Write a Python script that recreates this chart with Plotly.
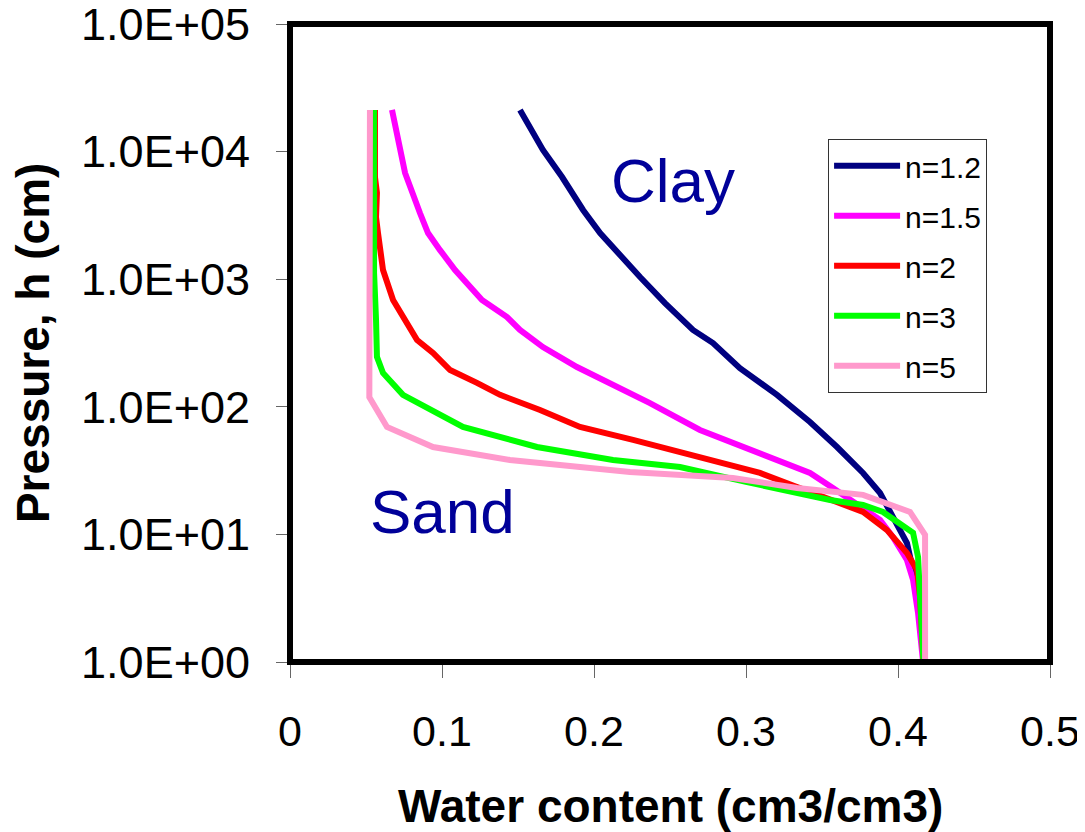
import plotly.graph_objects as go

# Water content (cm3/cm3) and pressure head h (cm)
theta_n12 = [0.1513, 0.1664, 0.179, 0.1928, 0.204, 0.2158, 0.2303, 0.2467, 0.2651, 0.2783,
             0.296, 0.3204, 0.3421, 0.3599, 0.377, 0.3882, 0.3967, 0.4059, 0.4099, 0.4132,
             0.4158, 0.4168]
h_n12 = [21200, 10300, 6320, 3490, 2300, 1600, 1040, 650, 400, 316,
         201, 124, 76, 48.4, 30.3, 21.1, 13.7, 8.55, 5.26, 3.23,
         1.78, 1.0]

theta_n15 = [0.0671, 0.0711, 0.0757, 0.0855, 0.0908, 0.0987, 0.1086, 0.1263, 0.1428, 0.1513,
             0.1664, 0.1888, 0.2105, 0.2368, 0.2697, 0.3026, 0.3204, 0.3421, 0.3572, 0.375,
             0.3882, 0.3967, 0.4059, 0.4099, 0.4132, 0.4165]
h_n15 = [21200, 12300, 6800, 3300, 2300, 1690, 1180, 687, 505, 400,
         294, 205, 154, 107, 65.8, 45.8, 38.3, 30.3, 23.1, 16.4,
         13.0, 9.5, 6.3, 4.4, 2.42, 1.0]

theta_n2 = [0.0559, 0.0559, 0.0572, 0.0566, 0.0579, 0.0612, 0.0678, 0.0743, 0.0836, 0.0941,
            0.1053, 0.123, 0.1382, 0.1645, 0.1908, 0.2257, 0.2586, 0.2914, 0.3092, 0.3336,
            0.3553, 0.377, 0.3928, 0.4059, 0.4125, 0.4145, 0.4168]
h_n2 = [21200, 6320, 4740, 3070, 2300, 1180, 687, 505, 334, 264,
        194, 154, 124, 94.4, 69.5, 55, 43.4, 33.7, 30.3, 23.5,
        18.6, 15.0, 10.8, 7.15, 5.26, 3.23, 1.0]

theta_n3 = [0.0553, 0.0553, 0.0566, 0.0572, 0.0572, 0.0612, 0.0743, 0.1138, 0.1625, 0.2125,
            0.2566, 0.3007, 0.3336, 0.3553, 0.377, 0.3901, 0.4099, 0.4132, 0.4145, 0.4168]
h_n3 = [21200, 1120, 479, 294, 246, 184, 124, 69.5, 48.4, 38.3,
        33.7, 25.7, 21.1, 18.6, 17.0, 15.0, 10.3, 6.65, 3.23, 1.0]

theta_n5 = [0.0526, 0.0526, 0.0518, 0.0522, 0.0638, 0.0941, 0.1447, 0.2237, 0.2914, 0.3336,
            0.377, 0.4079, 0.4178, 0.4178]
h_n5 = [21200, 400, 205, 119, 69.5, 48.4, 38.3, 30.8, 27.7, 23.1,
        20.4, 15.0, 9.9, 1.0]

series_names = ["n=1.2", "n=1.5", "n=2", "n=3", "n=5"]
series_theta = [theta_n12, theta_n15, theta_n2, theta_n3, theta_n5]
series_h = [h_n12, h_n15, h_n2, h_n3, h_n5]
series_colors = ["#000080", "#FF00FF", "#FF0000", "#00FF00", "#FF99CC"]

x_tick_vals = [0, 0.1, 0.2, 0.3, 0.4, 0.5]
x_tick_text = ["0", "0.1", "0.2", "0.3", "0.4", "0.5"]
y_tick_vals = [1, 10, 100, 1000, 10000, 100000]
y_tick_text = ["1.0E+00", "1.0E+01", "1.0E+02", "1.0E+03", "1.0E+04", "1.0E+05"]

FONT = "Liberation Sans, Arial, sans-serif"

fig = go.Figure()
for name, th, hh, col in zip(series_names, series_theta, series_h, series_colors):
    fig.add_trace(go.Scatter(
        x=th, y=hh, mode="lines", name=name, legendgroup=name,
        line=dict(color=col, width=6),
    ))

# the page body adds an 8px offset, so the figure is 8px smaller than the window
fig.update_layout(
    width=1077, height=824,
    margin=dict(l=282, r=35, t=16, b=170),
    paper_bgcolor="white", plot_bgcolor="white",
    font=dict(family=FONT, color="black"),
    showlegend=True,
    legend=dict(
        x=0.708, y=0.82, xanchor="left", yanchor="top",
        font=dict(family=FONT, size=30, color="black"),
        bgcolor="white", bordercolor="#333333", borderwidth=1,
        tracegroupgap=8, itemwidth=66,
    ),
    xaxis=dict(
        range=[0, 0.5], tickvals=x_tick_vals, ticktext=x_tick_text,
        showgrid=False, zeroline=False, showline=False, automargin=False,
        ticks="outside", ticklen=15, tickwidth=1, tickcolor="#666666",
        tickfont=dict(family=FONT, size=43, color="black"),
        ticklabelstandoff=16, ticklabeloverflow="allow",
    ),
    yaxis=dict(
        type="log", range=[0, 5], tickvals=y_tick_vals, ticktext=y_tick_text,
        showgrid=False, zeroline=False, showline=False, automargin=False,
        ticks="outside", ticklen=13, tickwidth=1, tickcolor="#666666",
        tickfont=dict(family=FONT, size=45, color="black"),
        ticklabelstandoff=17, ticklabeloverflow="allow",
    ),
    shapes=[dict(type="rect", xref="paper", yref="paper", x0=0, y0=0, x1=1, y1=1,
                 line=dict(color="black", width=6), layer="above")],
    annotations=[
        dict(text="<b>Water content (cm3/cm3)</b>", xref="paper", yref="paper",
             x=0.5, y=-0.225, xanchor="center", yanchor="middle", showarrow=False,
             font=dict(family=FONT, size=46, color="black")),
        dict(text="<b>Pressure, h (cm)</b>", xref="paper", yref="paper",
             x=-0.338, y=0.5, xanchor="center", yanchor="middle", showarrow=False,
             textangle=-90, font=dict(family=FONT, size=46, color="black")),
        dict(text="Clay", xref="paper", yref="paper", x=0.504, y=0.754,
             xanchor="center", yanchor="middle", showarrow=False,
             font=dict(family=FONT, size=62, color="#000099")),
        dict(text="Sand", xref="paper", yref="paper", x=0.2, y=0.236,
             xanchor="center", yanchor="middle", showarrow=False,
             font=dict(family=FONT, size=62, color="#000099")),
    ],
)

fig.write_html("out.html")
